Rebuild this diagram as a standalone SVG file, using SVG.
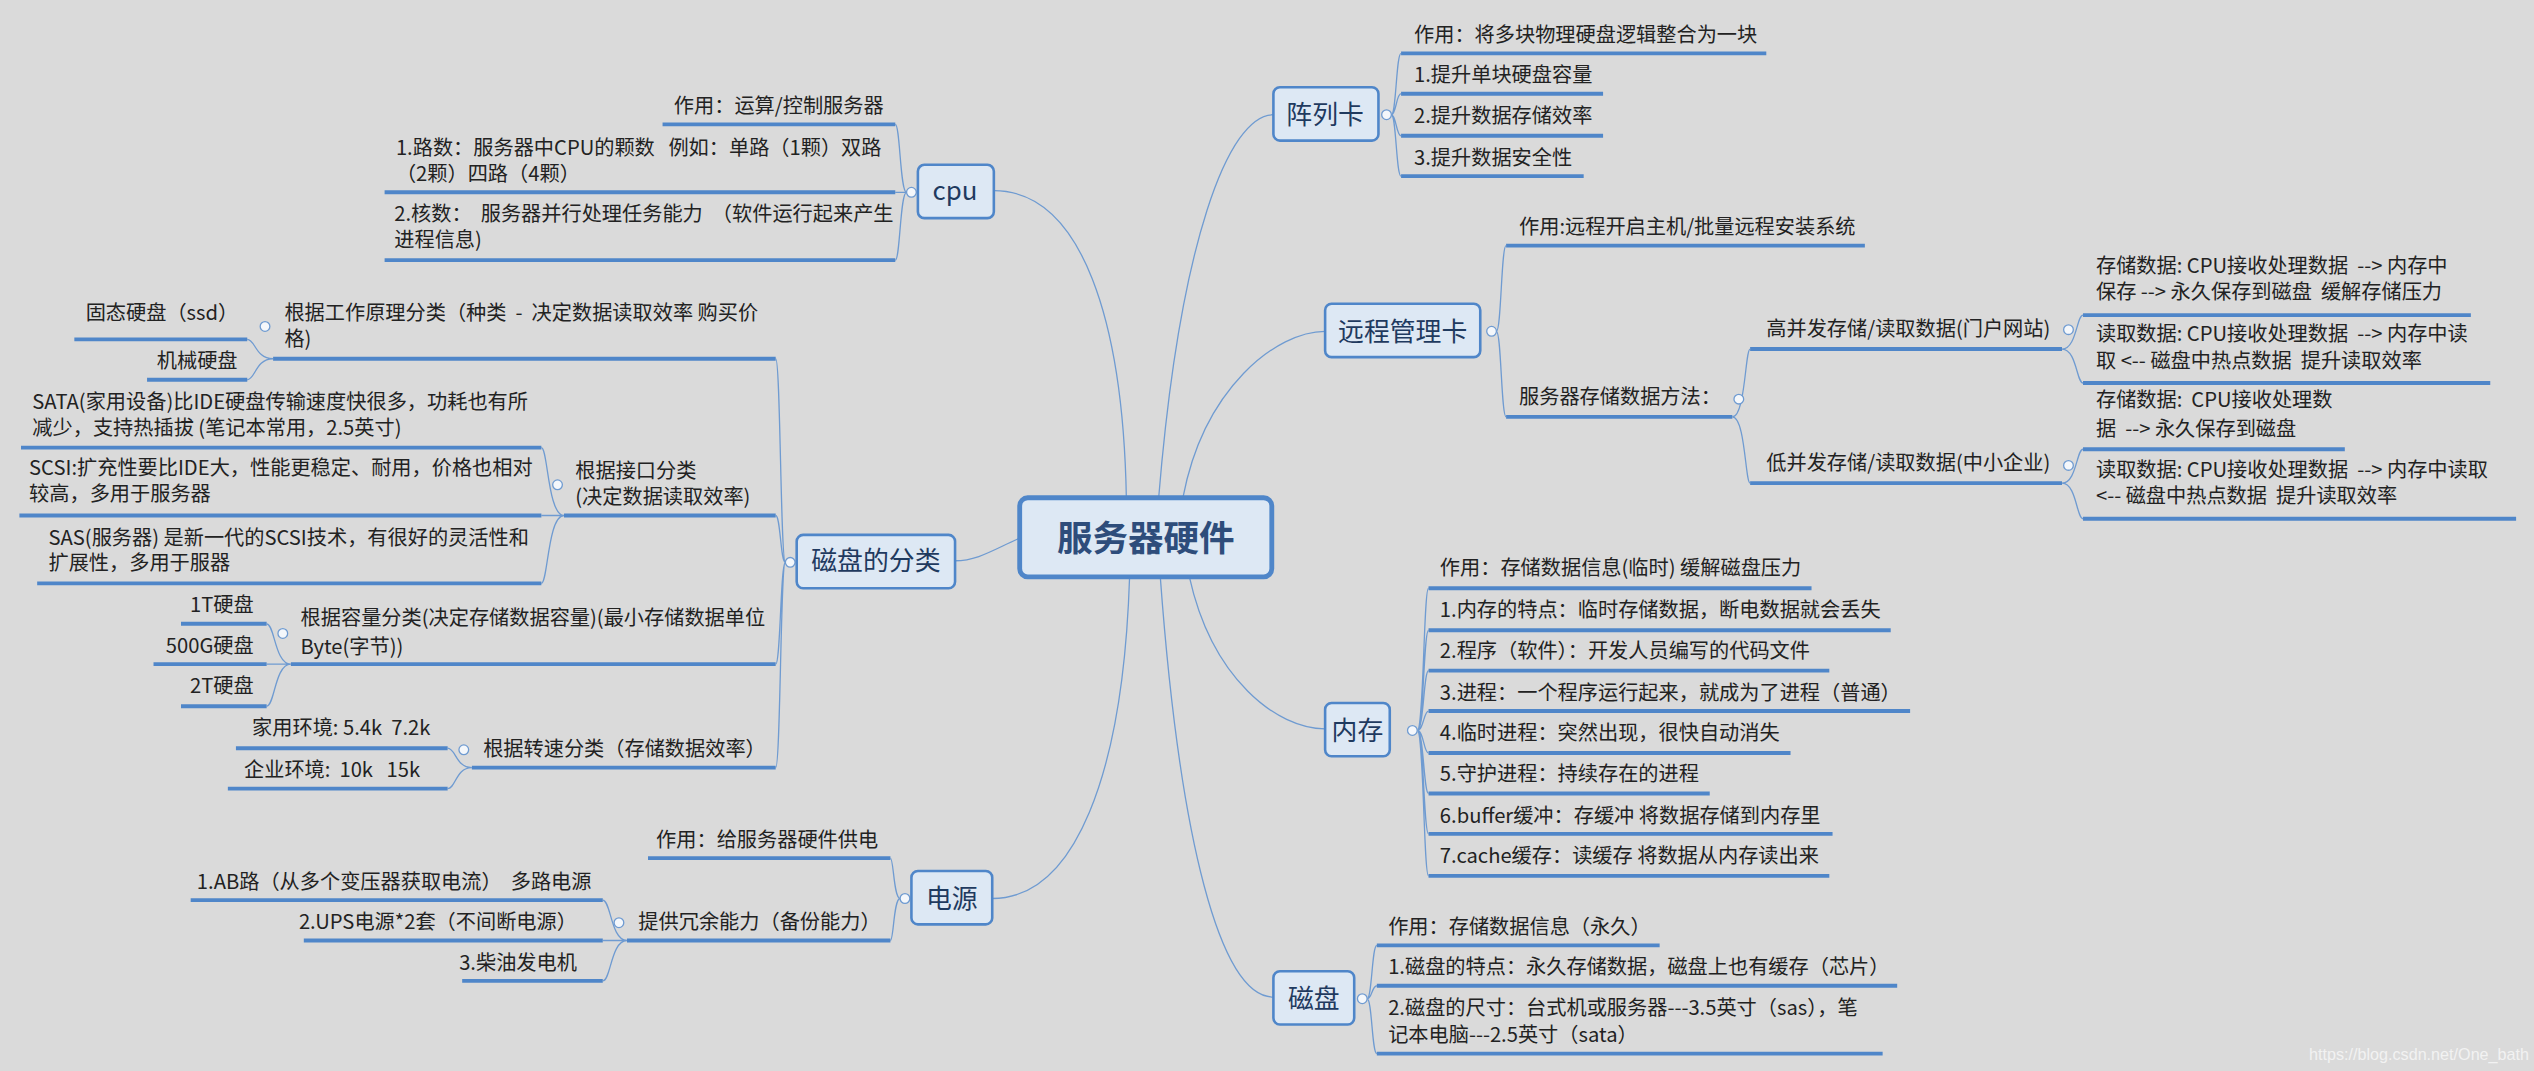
<svg xmlns="http://www.w3.org/2000/svg" width="2534" height="1071" viewBox="0 0 2534 1071">
<style>
.t{font-family:"Noto Sans CJK SC","Liberation Sans",sans-serif;font-size:12.5px;fill:#222;white-space:pre}
.e{text-anchor:end}
.u{stroke:#4f86c9;stroke-width:2.4;fill:none}
.c{stroke:#6f9bd1;stroke-width:0.8;fill:none}
.n{fill:#dde8f4;stroke:#4f86c9;stroke-width:1.6}
.nl{font-family:"Noto Sans CJK SC","Liberation Sans",sans-serif;font-size:16px;fill:#1f3a5f;text-anchor:middle}
.k{fill:#f4f7fb;stroke:#6f9bd1;stroke-width:0.8}
</style>
<rect width="2534" height="1071" fill="#dadada"/>
<g transform="scale(1.616)">
<g id="connectors">
<path class="c" d="M697,308 C695,200 670,118 615,118"/>
<path class="c" d="M717,308 C730,150 760,71 788,71"/>
<path class="c" d="M732,308 C745,240 790,205 820,205"/>
<path class="c" d="M631,333 C615,340 605,347 591,347"/>
<path class="c" d="M699,357 C695,480 665,556 614,556"/>
<path class="c" d="M736,357 C750,420 790,451 820,451"/>
<path class="c" d="M718,357 C730,520 755,617 788,617"/>
<path class="c" d="M561,119 C557,119 557,77 554,77 M561,119 C557,119 557,119 554,119 M561,119 C557,119 557,161 554,161"/>
<path class="c" d="M486,348 C483,348 483,222 480,222 M486,348 C483,348 483,319 480,319 M486,348 C483,348 483,411 480,411 M486,348 C483,348 483,475 480,475"/>
<path class="c" d="M169,222 C158,222 158,210 153,210 M169,222 C158,222 158,235 153,235"/>
<path class="c" d="M349,319 C339,319 339,277 335,277 M349,319 L335,319 M349,319 C339,319 339,361 335,361"/>
<path class="c" d="M180,411 C170,411 170,386 165,386 M180,411 L165,411 M180,411 C170,411 170,437 165,437"/>
<path class="c" d="M292,475 C282,475 282,463 277,463 M292,475 C282,475 282,488 277,488"/>
<path class="c" d="M557,556 C553,556 553,531 551,531 M557,556 C553,556 553,582 551,582"/>
<path class="c" d="M388,582 C378,582 378,557 373,557 M388,582 L373,582 M388,582 C378,582 378,607 373,607"/>
<path class="c" d="M861,71 C864,71 864,33 867,33 M861,71 C864,71 864,58 867,58 M861,71 C864,71 864,84 867,84 M861,71 C864,71 864,109 867,109"/>
<path class="c" d="M926,205 C929,205 929,152 932,152 M926,205 C929,205 929,258 932,258"/>
<path class="c" d="M1072,258 C1080,258 1080,216 1083,216 M1072,258 C1080,258 1080,299 1083,299"/>
<path class="c" d="M1276,216 C1285,216 1285,195 1289,195 M1276,216 C1285,216 1285,237 1289,237"/>
<path class="c" d="M1276,299 C1285,299 1285,278 1289,278 M1276,299 C1285,299 1285,321 1289,321"/>
<path class="c" d="M877,452 C881,452 881,364 884,364 M877,452 C881,452 881,390 884,390 M877,452 C881,452 881,415 884,415 M877,452 C881,452 881,440 884,440 M877,452 C881,452 881,466 884,466 M877,452 C881,452 881,491 884,491 M877,452 C881,452 881,516 884,516 M877,452 C881,452 881,542 884,542"/>
<path class="c" d="M846,618 C849,618 849,585 852,585 M846,618 C849,618 849,610 852,610 M846,618 C849,618 849,652 852,652"/>
<g>
<circle class="k" cx="564" cy="119" r="3"/><circle class="k" cx="489" cy="348" r="3"/><circle class="k" cx="164" cy="202" r="3"/><circle class="k" cx="345" cy="300" r="3"/><circle class="k" cx="175" cy="392" r="3"/><circle class="k" cx="287" cy="464" r="3"/><circle class="k" cx="560" cy="556" r="3"/><circle class="k" cx="383" cy="571" r="3"/><circle class="k" cx="858" cy="71" r="3"/><circle class="k" cx="923" cy="205" r="3"/><circle class="k" cx="1076" cy="247" r="3"/><circle class="k" cx="1280" cy="204" r="3"/><circle class="k" cx="1280" cy="288" r="3"/><circle class="k" cx="874" cy="452" r="3"/><circle class="k" cx="843" cy="618" r="3"/>
</g>
</g>
<g id="center"><rect x="631" y="308" width="156" height="49" rx="5" fill="#dde8f4" stroke="#4f86c9" stroke-width="3"/><text x="709" y="341" font-family="Noto Sans CJK SC,Liberation Sans,sans-serif" font-size="22" font-weight="bold" fill="#2e4d7b" text-anchor="middle">服务器硬件</text></g>
<g id="cpu"><rect class="n" x="568" y="102" width="47" height="33" rx="4"/><text class="nl" x="591" y="124">cpu</text>
<text class="t" x="417" y="70">作用：运算/控制服务器</text><path class="u" d="M410,77H554"/>
<text class="t" x="245" y="96">1.路数：服务器中CPU的颗数   例如：单路（1颗）双路<tspan x="245" y="112">（2颗）四路（4颗）</tspan></text><path class="u" d="M238,119H554"/>
<text class="t" x="244" y="137">2.核数：  服务器并行处理任务能力  （软件运行起来产生<tspan x="244" y="153">进程信息)</tspan></text><path class="u" d="M238,161H554"/></g>
<g id="disk-class"><rect class="n" x="493" y="331" width="98" height="33" rx="4"/><text class="nl" x="542" y="353">磁盘的分类</text>
<text class="t" x="176" y="198">根据工作原理分类（种类  -  决定数据读取效率 购买价<tspan x="176" y="214">格)</tspan></text><path class="u" d="M169,222H480"/>
<text class="t" x="53" y="198">固态硬盘（ssd）</text><path class="u" d="M46,210H153"/>
<text class="t" x="97" y="228">机械硬盘</text><path class="u" d="M91,235H153"/>
<text class="t" x="356" y="296">根据接口分类<tspan x="356" y="312">(决定数据读取效率)</tspan></text><path class="u" d="M349,319H480"/>
<text class="t" x="20" y="253">SATA(家用设备)比IDE硬盘传输速度快很多，功耗也有所<tspan x="20" y="269">减少，支持热插拔 (笔记本常用，2.5英寸)</tspan></text><path class="u" d="M13,277H335"/>
<text class="t" x="18" y="294">SCSI:扩充性要比IDE大，性能更稳定、耐用，价格也相对<tspan x="18" y="310">较高，多用于服务器</tspan></text><path class="u" d="M12,319H335"/>
<text class="t" x="30" y="337">SAS(服务器) 是新一代的SCSI技术，有很好的灵活性和<tspan x="30" y="353">扩展性，多用于服器</tspan></text><path class="u" d="M23,361H335"/>
<text class="t" x="186" y="387">根据容量分类(决定存储数据容量)(最小存储数据单位<tspan x="186" y="405">Byte(字节))</tspan></text><path class="u" d="M180,411H480"/>
<text class="t e" x="157" y="379">1T硬盘</text><path class="u" d="M112,386H165"/>
<text class="t e" x="157" y="404">500G硬盘</text><path class="u" d="M95,411H165"/>
<text class="t e" x="157" y="429">2T硬盘</text><path class="u" d="M112,437H165"/>
<text class="t" x="299" y="468">根据转速分类（存储数据效率）</text><path class="u" d="M292,475H480"/>
<text class="t" x="156" y="455">家用环境: 5.4k  7.2k</text><path class="u" d="M146,463H277"/>
<text class="t" x="151" y="481">企业环境:  10k   15k</text><path class="u" d="M141,488H277"/></g>
<g id="power"><rect class="n" x="564" y="539" width="50" height="33" rx="4"/><text class="nl" x="589" y="562">电源</text>
<text class="t" x="406" y="524">作用：给服务器硬件供电</text><path class="u" d="M401,531H551"/>
<text class="t" x="395" y="575">提供冗余能力（备份能力）</text><path class="u" d="M388,582H551"/>
<text class="t e" x="366" y="550">1.AB路（从多个变压器获取电流）  多路电源</text><path class="u" d="M118,557H373"/>
<text class="t e" x="357" y="575">2.UPS电源*2套（不间断电源）</text><path class="u" d="M188,582H373"/>
<text class="t e" x="357" y="600">3.柴油发电机</text><path class="u" d="M286,607H373"/></g>
<g id="raid"><rect class="n" x="788" y="54" width="65" height="33" rx="4"/><text class="nl" x="820" y="77">阵列卡</text>
<text class="t" x="875" y="26">作用：将多块物理硬盘逻辑整合为一块</text><path class="u" d="M867,33H1093"/>
<text class="t" x="875" y="51">1.提升单块硬盘容量</text><path class="u" d="M867,58H992"/>
<text class="t" x="875" y="76">2.提升数据存储效率</text><path class="u" d="M867,84H992"/>
<text class="t" x="875" y="102">3.提升数据安全性</text><path class="u" d="M867,109H980"/></g>
<g id="remote"><rect class="n" x="820" y="188" width="96" height="33" rx="4"/><text class="nl" x="868" y="211">远程管理卡</text>
<text class="t" x="940" y="145">作用:远程开启主机/批量远程安装系统</text><path class="u" d="M932,152H1154"/>
<text class="t" x="940" y="250">服务器存储数据方法：</text><path class="u" d="M932,258H1072"/>
<text class="t" x="1093" y="208">高并发存储/读取数据(门户网站)</text><path class="u" d="M1083,216H1276"/>
<text class="t" x="1093" y="291">低并发存储/读取数据(中小企业)</text><path class="u" d="M1083,299H1276"/>
<text class="t" x="1297" y="169">存储数据: CPU接收处理数据  --&gt; 内存中<tspan x="1297" y="185">保存 --&gt; 永久保存到磁盘  缓解存储压力</tspan></text><path class="u" d="M1289,195H1529"/>
<text class="t" x="1297" y="211">读取数据: CPU接收处理数据  --&gt; 内存中读<tspan x="1297" y="228">取 &lt;-- 磁盘中热点数据  提升读取效率</tspan></text><path class="u" d="M1289,237H1541"/>
<text class="t" x="1297" y="252">存储数据:  CPU接收处理数<tspan x="1297" y="270">据  --&gt; 永久保存到磁盘</tspan></text><path class="u" d="M1289,278H1451"/>
<text class="t" x="1297" y="295">读取数据: CPU接收处理数据  --&gt; 内存中读取<tspan x="1297" y="311">&lt;-- 磁盘中热点数据  提升读取效率</tspan></text><path class="u" d="M1289,321H1557"/></g>
<g id="memory"><rect class="n" x="820" y="435" width="40" height="33" rx="4"/><text class="nl" x="840" y="458">内存</text>
<text class="t" x="891" y="356">作用：存储数据信息(临时) 缓解磁盘压力</text><path class="u" d="M884,364H1121"/>
<text class="t" x="891" y="382">1.内存的特点：临时存储数据，断电数据就会丢失</text><path class="u" d="M884,390H1170"/>
<text class="t" x="891" y="407">2.程序（软件）：开发人员编写的代码文件</text><path class="u" d="M884,415H1132"/>
<text class="t" x="891" y="433">3.进程：一个程序运行起来，就成为了进程（普通）</text><path class="u" d="M884,440H1182"/>
<text class="t" x="891" y="458">4.临时进程：突然出现，很快自动消失</text><path class="u" d="M884,466H1108"/>
<text class="t" x="891" y="483">5.守护进程：持续存在的进程</text><path class="u" d="M884,491H1058"/>
<text class="t" x="891" y="509">6.buffer缓冲：存缓冲 将数据存储到内存里</text><path class="u" d="M884,516H1134"/>
<text class="t" x="891" y="534">7.cache缓存：读缓存 将数据从内存读出来</text><path class="u" d="M884,542H1132"/></g>
<g id="disk"><rect class="n" x="788" y="601" width="50" height="33" rx="4"/><text class="nl" x="813" y="624">磁盘</text>
<text class="t" x="859" y="578">作用：存储数据信息（永久）</text><path class="u" d="M852,585H1027"/>
<text class="t" x="859" y="603">1.磁盘的特点：永久存储数据，磁盘上也有缓存（芯片）</text><path class="u" d="M852,610H1174"/>
<text class="t" x="859" y="628">2.磁盘的尺寸：台式机或服务器---3.5英寸（sas），笔<tspan x="859" y="645">记本电脑---2.5英寸（sata）</tspan></text><path class="u" d="M852,652H1165"/></g>
<text x="1565" y="656" font-family="Liberation Sans,sans-serif" font-size="10" fill="#f2f2f2" text-anchor="end">https://blog.csdn.net/One_bath</text>
</g>
</svg>
